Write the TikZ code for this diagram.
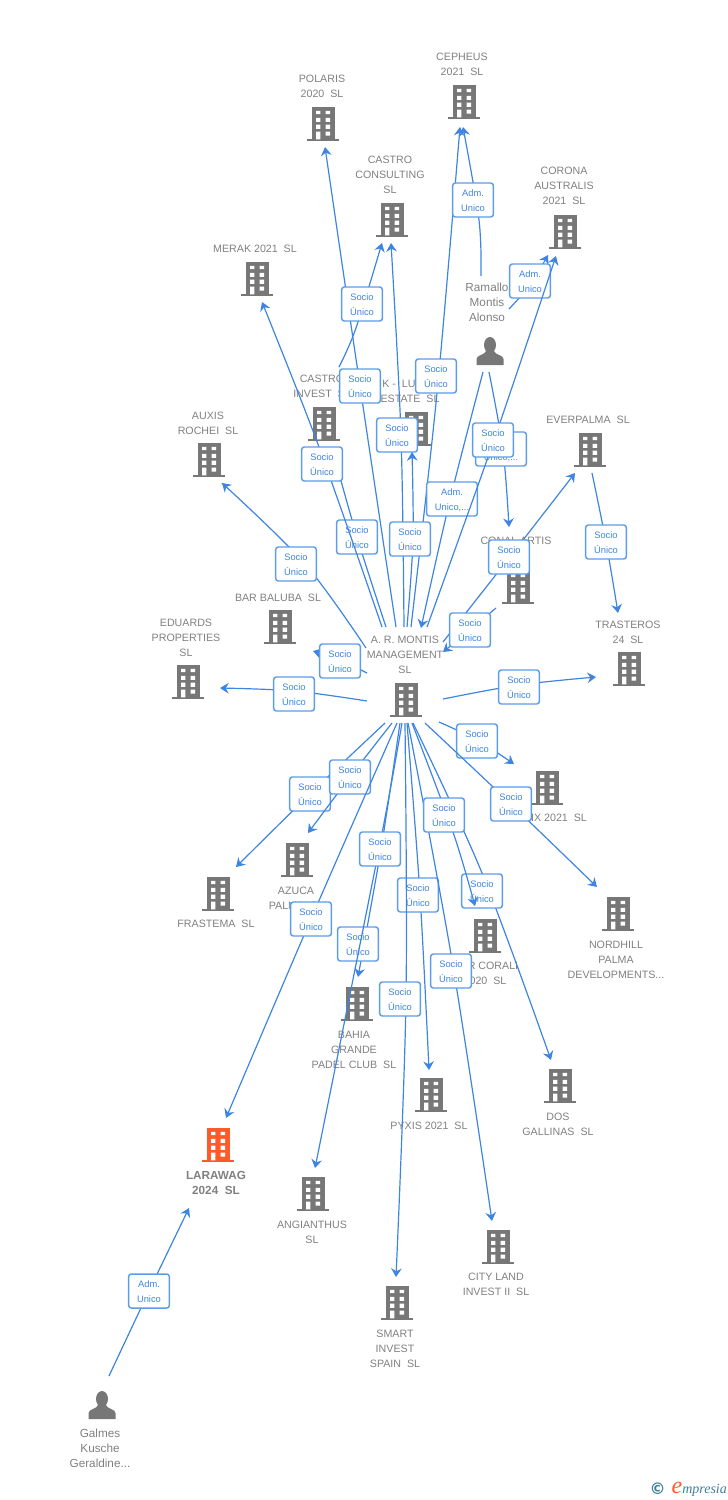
\documentclass[tikz,border=0pt]{standalone}
\usepackage{fontspec}
\setmainfont{Liberation Sans}
\newfontfamily\logofont{Liberation Serif}
\newfontfamily\symfont{DejaVu Sans}
\usetikzlibrary{arrows.meta}
\definecolor{lnk}{HTML}{3D85E0}
\definecolor{bdr}{HTML}{5C9CE8}
\definecolor{txt}{HTML}{808080}
\definecolor{ico}{HTML}{777777}
\definecolor{org}{HTML}{FF5A27}
\definecolor{teal}{HTML}{3F7F9F}
\tikzset{
  link/.style={draw=lnk,line width=0.9pt,-{Stealth[length=6.5pt,width=8pt,inset=2.2pt]}},
  badge/.style={draw=bdr,line width=1.1pt,rounded corners=2pt,fill=white,text=lnk,inner sep=0pt,
    minimum width=30.5pt,minimum height=25.5pt,align=center,font=\fontsize{7}{11.25}\selectfont},
  wbadge/.style={badge,minimum width=38pt},
  lbl/.style={text=txt,align=center,inner sep=0pt,yshift=-0.75pt,font=\fontsize{8}{11.25}\selectfont},
  plbl/.style={lbl,font=\fontsize{8.8}{11.25}\selectfont},
  blbl/.style={lbl,font=\fontsize{8.8}{11.25}\selectfont\bfseries},
  iconbox/.style={inner sep=0pt,minimum width=24pt,minimum height=25.5pt},
  pics/bldg/.style={code={
    \fill[#1] (-11.5,-17) rectangle (11.5,15.4);
    \fill[#1] (-16,15.4) rectangle (16,17.2);
    \fill[white] (-7,-13.2) rectangle (-2.6,-9.8) (2.6,-13.2) rectangle (7,-9.8)
                 (-7,-6.2) rectangle (-2.6,-2.2) (2.6,-6.2) rectangle (7,-2.2)
                 (-7,0.6) rectangle (-2.6,4.8) (2.6,0.6) rectangle (7,4.8)
                 (-7,7.6) rectangle (-2.6,15.4) (2.6,7.6) rectangle (7,11.6);
  }},
  pics/pers/.style={code={
    \fill[ico] (0,-6) ellipse (6 and 8);
    \fill[ico] (-13.5,14) -- (-13.5,8) .. controls (-13.5,4) and (-5,4) .. (-4,0) -- (4,0)
       .. controls (5,4) and (13.5,4) .. (13.5,8) -- (13.5,14) -- cycle;
  }}
}
\newcommand{\bld}[3]{\node[iconbox] (#1) at (#2) {}; \pic at (#2) {bldg=#3};}
\newcommand{\prs}[2]{\node[iconbox] (#1) at (#2) {}; \pic at (#2) {pers};}
\newcommand{\conn}[7][badge]{%
  \coordinate (#2s) at (#3); \coordinate (#2v) at (#4); \coordinate (#2e) at (#5);
  \draw[link] plot[smooth,tension=.55] coordinates {(#2s) (#2v) (#2e)};
  \node[#1] (#2b) at (#6) {\rule{0pt}{6.6pt}#7};}
\newcommand{\su}{Socio\\Único}
\newcommand{\au}{Adm.\\Unico}
\newcommand{\dsp}{\ \ }
\begin{document}
\begin{tikzpicture}[x=0.75pt,y=-0.75pt]
\useasboundingbox (0,0) rectangle (728,1500);
% buildings and people
\bld{polaris}{323,124}{ico}
\bld{cepheus}{464,102}{ico}
\bld{castrocons}{392,220}{ico}
\bld{corona}{565,232}{ico}
\bld{merak}{257,279}{ico}
\bld{castroinv}{324,424}{ico}
\bld{lux}{416,429}{ico}
\bld{auxis}{209,460}{ico}
\bld{everpalma}{590,450}{ico}
\bld{baluba}{280,627}{ico}
\bld{eduards}{188,682}{ico}
\bld{conal}{518,587}{ico}
\bld{trasteros}{629,669}{ico}
\bld{ar}{406,700}{ico}
\bld{ix}{547,788}{ico}
\bld{frastema}{218,894}{ico}
\bld{azuca}{297,860}{ico}
\bld{nordhill}{618,914}{ico}
\bld{coral}{485,936}{ico}
\bld{bahia}{357,1004}{ico}
\bld{pyxis}{431,1095}{ico}
\bld{dos}{560,1086}{ico}
\bld{larawag}{218,1145}{org}
\bld{angi}{313,1194}{ico}
\bld{city}{498,1247}{ico}
\bld{smart}{397,1303}{ico}
\prs{ramallo}{490,351}
\prs{galmes}{102,1405}
% labels
\node[lbl] (tpolaris) at (322,85.5) {POLARIS\\2020\dsp SL};
\node[lbl] (tcepheus) at (462,63.5) {CEPHEUS\\2021\dsp SL};
\node[lbl] (tcastrocons) at (390,174) {CASTRO\\CONSULTING\\SL};
\node[lbl] (tcorona) at (564,185) {CORONA\\AUSTRALIS\\2021\dsp SL};
\node[lbl] (tmerak) at (255,248) {MERAK 2021\dsp SL};
\node[plbl] (tramallo) at (487,301) {Ramallo\\Montis\\Alonso};
\node[lbl] (tcastroinv) at (322,385.5) {CASTRO\\INVEST\dsp SL};
\node[lbl] (tlux1) at (399,383) {K -\dsp LU};
\node[lbl] (tlux2) at (410,398) {ESTATE\dsp SL};
\node[lbl] (tauxis) at (208,422.5) {AUXIS\\ROCHEI\dsp SL};
\node[lbl] (tever) at (588,419) {EVERPALMA\dsp SL};
\node[lbl] (tbaluba) at (278,597) {BAR BALUBA\dsp SL};
\node[lbl] (teduards) at (186,637) {EDUARDS\\PROPERTIES\\SL};
\node[lbl] (tconal) at (516,540) {CONAL ARTIS};
\node[lbl] (ttrasteros) at (628,631.5) {TRASTEROS\\24\dsp SL};
\node[lbl] (tar) at (405,654) {A. R. MONTIS\\MANAGEMENT\\SL};
\node[lbl] (tix) at (559,817) {IX 2021\dsp SL};
\node[lbl] (tfrastema) at (216,923) {FRASTEMA\dsp SL};
\node[lbl] (tazuca) at (296,897.5) {AZUCA\\PALMA\dsp SL};
\node[lbl] (tnord) at (616,959) {NORDHILL\\PALMA\\DEVELOPMENTS...};
\node[lbl] (tcoral1) at (493,965) {R CORALI};
\node[lbl] (tcoral2) at (488,980) {020\dsp SL};
\node[lbl] (tbahia) at (354,1049) {BAHIA\\GRANDE\\PADEL CLUB\dsp SL};
\node[lbl] (tpyxis) at (429,1125) {PYXIS 2021\dsp SL};
\node[lbl] (tdos) at (558,1123.5) {DOS\\GALLINAS\dsp SL};
\node[blbl] (tlarawag) at (216,1181.5) {LARAWAG\\2024\dsp SL};
\node[lbl] (tangi) at (312,1231.5) {ANGIANTHUS\\SL};
\node[lbl] (tcity) at (496,1283.5) {CITY LAND\\INVEST II\dsp SL};
\node[lbl] (tsmart) at (395,1348) {SMART\\INVEST\\SPAIN\dsp SL};
\node[plbl] (tgalmes) at (100,1447) {Galmes\\Kusche\\Geraldine...};
% connectors, upper fan
\conn{cinvar}{386,627}{357,537}{332,448}{357,537}{\su}
\conn{merk}{382,627}{319,447}{262,302}{322,464}{\su}
\conn{aux}{366,648}{305,564}{222,483}{296,564}{\su}
\conn{pol}{396,627}{360,386}{325,147}{360,386}{\su}
\conn{ccons}{339,367}{356,328}{382,243}{362,304}{\su}
\conn{ccar}{404,627}{401,435}{391,243}{397,435}{\su}
\conn{ceph}{411,627}{437,393}{460,127}{436,376}{\su}
\conn{luxl}{407,627}{413,540}{412,452}{410,539}{\su}
\conn{rceph}{481,276}{479,220}{463,127}{473,200}{\au}
\conn{rcor}{509,309}{530,285}{548,255}{530,281}{\au}
\conn[wbadge]{rar}{483,372}{450,500}{421,628}{452,499}{Adm.\\Unico,...}
\conn[wbadge]{rconal}{489,372}{503,450}{509,527}{501,449}{Adm.\\Unico,...}
\conn{cor}{427,627}{494,440}{556,256}{493,440}{\su}
\conn{ever}{443,642}{509,558}{575,473}{509,557}{\su}
\conn{conalar}{496,608}{470,630}{443,652}{470,630}{\su}
\conn{tras}{592,473}{606,542}{618,613}{606,542}{\su}
\conn{bal}{367,673}{340,660}{313,651}{340,661}{\su}
\conn{edu}{367,701}{294,691}{220,688}{294,694}{\su}
\conn{artr}{443,699}{519,685}{596,677}{519,687}{\su}
% connectors, lower fan
\conn{phx}{439,722}{477,740}{514,764}{477,741}{\su}
\conn{nord}{425,723}{511,804}{597,887}{511,804}{\su}
\conn{fras}{385,723}{310,794}{236,867}{310,794}{\su}
\conn{azu}{392,723}{350,777}{308,833}{350,777}{\su}
\conn{lara}{397,723}{311,919}{226,1118}{311,919}{\su}
\conn{bah}{400,723}{381,849}{358,977}{358,944}{\su}
\conn{ang}{402,723}{379,849}{315,1168}{380,849}{\su}
\conn{dosg}{413,723}{482,873}{551,1060}{482,891}{\su}
\conn{pyx}{407,723}{420,895}{429,1070}{418,895}{\su}
\conn{smt}{405,723}{406,1000}{396,1277}{400,999}{\su}
\conn{cit}{408,723}{452,960}{492,1221}{451,971}{\su}
\conn{corl}{412,723}{453,832}{475,906}{444,815}{\su}
\conn{gal}{109,1376}{149,1291}{189,1208}{149,1291}{\au}
% logo
\node[inner sep=0pt,text=teal,font=\symfont\bfseries\fontsize{12}{12}\selectfont] (logoc) at (657.5,1489) {©};
\node[inner sep=0pt,text=org,font=\logofont\itshape\fontsize{18}{18}\selectfont] (logoe) at (677,1488) {e};
\node[inner sep=0pt,text=teal,anchor=west,font=\logofont\itshape\fontsize{10.5}{10}\selectfont] (logot) at (682,1490) {mpresia};
\end{tikzpicture}
\end{document}
